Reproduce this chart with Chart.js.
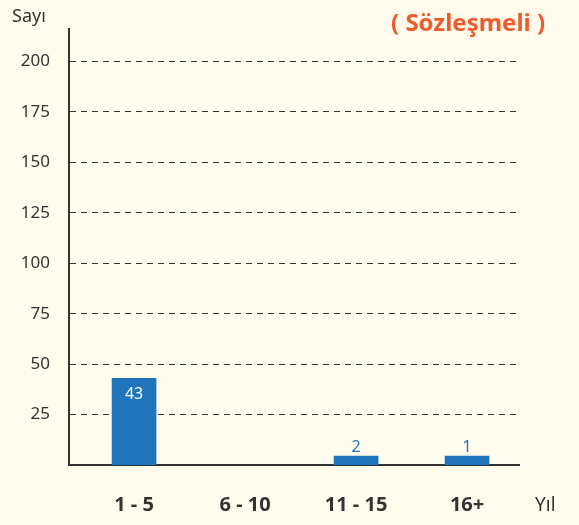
<!DOCTYPE html>
<html>
<head>
<meta charset="utf-8">
<script src="https://cdn.jsdelivr.net/npm/chart.js@4/dist/chart.umd.min.js"></script>
<style>
  html, body { margin: 0; padding: 0; background: #fffcee; }
  #wrap { position: relative; width: 579px; height: 525px; }
  .txt { position: absolute; font-family: "Noto Sans", sans-serif; color: #333; white-space: nowrap; }
</style>
</head>
<body>
<div id="wrap">
  <canvas id="grafik" width="579" height="525"></canvas>
  <div class="txt" style="left:12px; top:3px; font-size:18px;">Sayı</div>
  <div class="txt" style="left:535px; top:491px; font-size:19px;">Yıl</div>
  <div class="txt" style="left:391px; top:5px; font-size:24px; font-weight:bold; color:#f15a2b;">( Sözleşmeli )</div>
</div>
<script>
  // veriler
  const kategoriler = ["1 - 5", "6 - 10", "11 - 15", "16+"];
  const degerler = [43, 0, 2, 1];
  const yTikleri = [25, 50, 75, 100, 125, 150, 175, 200];

  const mavi = "#2074bc";

  // bar etiketleri
  const etiketPlugin = {
    id: "etiketler",
    afterDatasetsDraw(chart) {
      const ctx = chart.ctx;
      const meta = chart.getDatasetMeta(0);
      ctx.save();
      ctx.font = "16px 'Noto Sans'";
      ctx.textAlign = "center";
      meta.data.forEach((bar, i) => {
        const v = degerler[i];
        if (!v) return;
        if (v > 10) {
          ctx.fillStyle = "#ffffff";
          ctx.textBaseline = "top";
          ctx.fillText(v, bar.x, bar.y + 8);
        } else {
          ctx.fillStyle = mavi;
          ctx.textBaseline = "bottom";
          ctx.fillText(v, bar.x, bar.y - 1);
        }
      });
      ctx.restore();
    }
  };

  new Chart(document.getElementById("grafik"), {
    type: "bar",
    data: {
      datasets: [{
        data: degerler.map((v, i) => ({ x: i, y: v || null })),
        backgroundColor: mavi,
        barThickness: 44,
        minBarLength: 9
      }]
    },
    options: {
      responsive: false,
      animation: false,
      layout: { padding: { top: 28, right: 60, left: 0, bottom: 0 } },
      plugins: { legend: { display: false }, tooltip: { enabled: false } },
      scales: {
        x: {
          type: "linear",
          offset: false,
          min: -0.586,
          max: 3.468,
          afterBuildTicks: (s) => { s.ticks = kategoriler.map((k, i) => ({ value: i })); },
          afterFit: (s) => { s.height = 60; },
          grid: { display: false, drawTicks: false, offset: false },
          border: { display: true, color: "#333", width: 2 },
          ticks: {
            callback: (v) => kategoriler[v],
            color: "#333",
            padding: 28,
            maxRotation: 0,
            font: { family: "Noto Sans", size: 20, weight: "bold" }
          }
        },
        y: {
          min: 0,
          max: 216,
          afterBuildTicks: (s) => { s.ticks = yTikleri.map(v => ({ value: v })); },
          afterFit: (s) => { s.width = 69; },
          grid: { color: "#333", lineWidth: 1, drawTicks: false },
          border: { display: true, color: "#333", width: 2, dash: [6, 5] },
          ticks: {
            color: "#333",
            padding: 19,
            font: { family: "Noto Sans", size: 17 }
          }
        }
      }
    },
    plugins: [etiketPlugin]
  });
</script>
</body>
</html>
